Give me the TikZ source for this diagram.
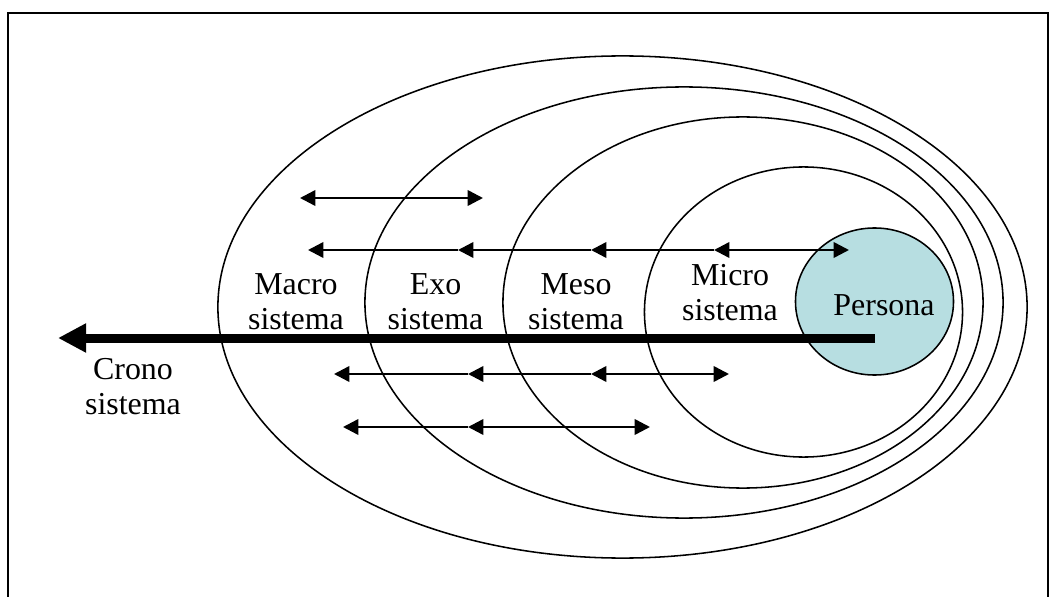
\documentclass[tikz,border=0pt]{standalone}
\usepackage{fontspec}
\setmainfont{Liberation Serif}
\usepackage{tikz}
\usetikzlibrary{arrows.meta,shapes.geometric,positioning}
\definecolor{personafill}{RGB}{183,222,225}
\newcommand{\sysfont}{\fontsize{22.7pt}{24.9pt}\selectfont}
\tikzset{  sys/.style={draw,line width=1.1pt},
  person/.style={draw,ellipse,line width=1.1pt,fill=personafill,inner sep=0pt,
    minimum width=3.95cm,minimum height=3.675cm},
  lbl/.style={align=center,inner sep=0pt,font=\sysfont},
  link/.style={line width=1.8pt},
  chrono/.style={line width=6.4pt,-{Triangle[length=20pt,width=19.5pt]}} }

\begin{document}
\begin{tikzpicture}[x=0.025cm,y=-0.025cm,>={Triangle[length=11pt,width=11pt]}]
   \useasboundingbox (0,0) rectangle (1060,597);
   \draw[line width=1.4pt] (8,620) -- (8,13) -- (1048,13) -- (1048,620);
   \draw[sys] (622.5,307) ellipse [x radius=10.1125cm, y radius=6.275cm];
   \draw[sys] (684,302.5) ellipse [x radius=7.975cm, y radius=5.3875cm];
   \draw[sys] (743,302.5) ellipse [x radius=6cm, y radius=4.6375cm];
   \draw[sys] (803.5,312) ellipse [x radius=3.975cm, y radius=3.625cm];
   \node[person] (persona) at (874.5,301.5) {};
   \node[lbl] (personatxt) at (884,305.5) {Persona};
   \node[lbl] (macro) at (296,301.5) {Macro\\sistema};
   \node[lbl] (exo) at (435.5,301.5) {Exo\\sistema};
   \node[lbl] (meso) at (576,301.5) {Meso\\sistema};
   \node[lbl] (micro) at (730,292.5) {Micro\\sistema};
   \node[lbl] (crono) at (133,387) {Crono\\sistema};
   \coordinate (t0) at (875,338);
   \coordinate (t1) at (58,338);
   \draw[chrono] (t0) -- (t1);
   \coordinate (r1a) at (300,198);
   \coordinate (r1b) at (483,198);
   \draw[link,<->] (r1a) -- (r1b);
   \coordinate (r2a) at (308,250);
   \coordinate (r2b) at (458,250);
   \coordinate (r2c) at (591,250);
   \coordinate (r2d) at (714,250);
   \coordinate (r2e) at (849,250);
   \draw[link,->] (r2b) -- (r2a);
   \draw[link,->] (r2c) -- (r2b);
   \draw[link,->] (r2d) -- (r2c);
   \draw[link,<->] (r2d) -- (r2e);
   \coordinate (r3a) at (334,374);
   \coordinate (r3b) at (468,374);
   \coordinate (r3c) at (591,374);
   \coordinate (r3d) at (729,374);
   \draw[link,->] (r3b) -- (r3a);
   \draw[link,->] (r3c) -- (r3b);
   \draw[link,<->] (r3c) -- (r3d);
   \coordinate (r4a) at (343,427);
   \coordinate (r4b) at (468,427);
   \coordinate (r4c) at (650,427);
   \draw[link,->] (r4b) -- (r4a);
   \draw[link,<->] (r4b) -- (r4c);
  \end{tikzpicture}
\end{document}
